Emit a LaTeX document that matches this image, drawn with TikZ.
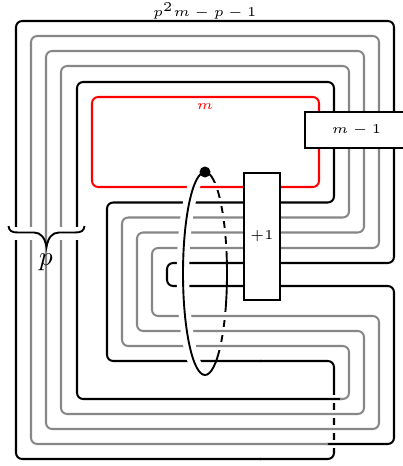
\documentclass[tikz,border=0pt]{standalone}
\definecolor{strandgray}{gray}{0.53}
\tikzset{
  strand/.style={line width=0.75pt,rounded corners=2.3pt,line cap=butt},
  blackstrand/.style={strand,draw=black},
  graystrand/.style={strand,draw=strandgray},
  redstrand/.style={strand,draw=red},
  gapmark/.style={draw=white,line width=2.96pt},
  halo/.style={draw=white,line width=4.6pt},
  loopline/.style={draw=black,line width=0.7pt},
  bandbox/.style={draw=black,fill=white,line width=0.75pt,inner sep=0pt,font=\tiny},
  bracestroke/.style={draw=black,line width=0.7pt},
  blank/.style={fill=white,draw=none}
}
\begin{document}
\begin{tikzpicture}[x=0.37037pt,y=-0.37037pt]
\useasboundingbox[fill=white] (0,0) rectangle (403,466);
% dashed (hidden) half of the loop, and hidden strand segment
\draw[loopline] (205,172) arc[start angle=270,end angle=450,x radius=22,y radius=101.5];
\draw[blackstrand] (260,361) -- (334,361) -- (334,459) -- (260,459);
% gaps in hidden parts
\foreach \yy/\xx in {186.5/216.5,202/220.8,217/223.4,232/225.2,247.5/226.3,316/225,331/223.1,346/220.4}
  \draw[gapmark] (\xx-5,\yy) -- (\xx+5,\yy);
\foreach \yy in {399,414,429,444}
  \draw[gapmark] (329,\yy) -- (339,\yy);
% red loop
\draw[redstrand] (92,97) rectangle (319,187);
% main strands
\draw[blackstrand] (341,399) -- (77,399) -- (77,82) -- (334,82) -- (334,202.5) -- (107,202.5) -- (107,361) -- (261,361);
\draw[blackstrand] (261,459) -- (16,459) -- (16,21) -- (394,21) -- (394,263) -- (167,263) -- (167,286) -- (394,286) -- (394,444) -- (327,444);
\draw[graystrand] (340,399) -- (349,399) -- (349,346) -- (122,346) -- (122,217.5) -- (349,217.5) -- (349,66) -- (61,66) -- (61,414) -- (364,414) -- (364,331) -- (137,331) -- (137,232.5) -- (364,232.5) -- (364,51) -- (46,51) -- (46,429) -- (379,429) -- (379,316) -- (152,316) -- (152,248) -- (379,248) -- (379,36) -- (31,36) -- (31,444) -- (328,444);
% visible half of the loop
\draw[halo] (205,172) arc[start angle=270,end angle=90,x radius=22,y radius=101.5];
\draw[loopline] (205,172) arc[start angle=270,end angle=90,x radius=22,y radius=101.5];
\fill[black] (205,172) circle[radius=5.5];
% boxes
\node[bandbox,minimum width=13.33pt,minimum height=46.85pt] (plusone) at (262,236.3) {$+1$};
\node[bandbox,minimum width=38.15pt,minimum height=13.33pt] (mminus) at (356.5,130) {$m-1$};
% labels
\node[font=\tiny,text=red,inner sep=0pt] (redm) at (205,106.5) {$m$};
\node[font=\tiny,inner sep=0pt] (total) at (204.8,11) {$p^2m-p-1$};
% brace
\fill[blank] (8,227) rectangle (40,240);
\fill[blank] (53,227) rectangle (85,240);
\draw[bracestroke] (8.5,226) .. controls (9,231) and (12,232.5) .. (18,232.5) -- (34,232.5) .. controls (41,232.5) and (45,238) .. (46.5,247) .. controls (48,238) and (52,232.5) .. (59,232.5) -- (75,232.5) .. controls (81,232.5) and (84,231) .. (84.5,226);
\node[inner sep=0pt] (plabel) at (46,262.5) {$p$};
\end{tikzpicture}
\end{document}
